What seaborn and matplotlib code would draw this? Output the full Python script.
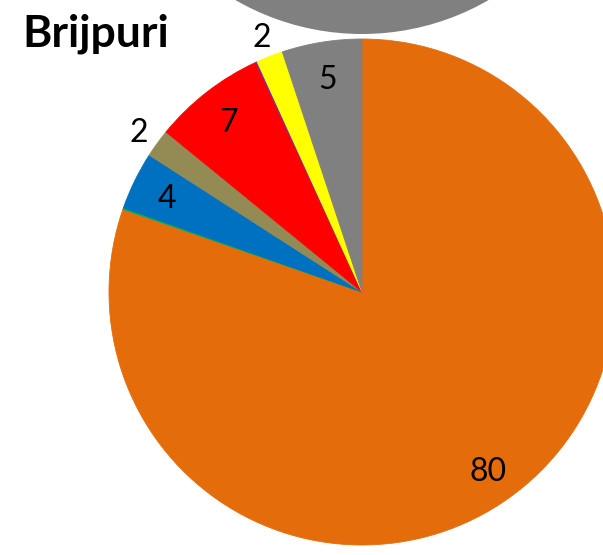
import numpy as np
import matplotlib
matplotlib.use("Agg")
import matplotlib.pyplot as plt
import seaborn as sns

# Share of each group in Brijpuri (percent), clockwise from 12 o'clock
groups = ["Group A", "Group B", "Group C", "Group D",
          "Group E", "Group F", "Group G", "Group H"]
shares = [80.3, 0.1, 3.7, 1.8, 7.2, 0.1, 1.7, 5.1]
slice_colors = ["#E46C0A", "#00B050", "#0070C0", "#948A54",
                "#FF0000", "#7030A0", "#FFFF00", "#808080"]
title = "Brijpuri"

sns.set_theme(style="white")
plt.rcParams["font.family"] = ["Lato", "DejaVu Sans"]

W, H = 603, 555
fig = plt.figure(figsize=(W / 100, H / 100), dpi=100)
ax = fig.add_axes([0, 0, 1, 1])

R = 253
center = (362, H - 292)
palette = sns.color_palette(slice_colors)

# neighbouring chart's pie peeking in at the top edge
ax.pie([1], colors=["#808080"], radius=R, center=(362, H + 219),
       startangle=90, wedgeprops=dict(linewidth=0))

wedges, _ = ax.pie(shares, colors=palette, radius=R, center=center,
                   startangle=90, counterclock=False,
                   wedgeprops=dict(linewidth=0.6))
for w, c in zip(wedges, palette):
    w.set_edgecolor(c)

# value labels: inside for larger slices, just outside for small ones
for w, v in zip(wedges, shares):
    if v < 0.5:
        continue
    mid = np.deg2rad((w.theta1 + w.theta2) / 2)
    frac = 0.86 if v >= 3 else 1.09
    x = center[0] + frac * R * np.cos(mid)
    y = center[1] + frac * R * np.sin(mid)
    ax.text(x, y, f"{round(v)}", ha="center", va="center_baseline",
            fontsize=23, color="black")

ax.text(22, H - 46, title, ha="left", va="baseline",
        fontsize=32, fontweight="bold", color="black")

ax.set_xlim(0, W)
ax.set_ylim(0, H)
ax.set_aspect("equal")
ax.set_axis_off()

fig.savefig("out.png", dpi=100, facecolor="white")
